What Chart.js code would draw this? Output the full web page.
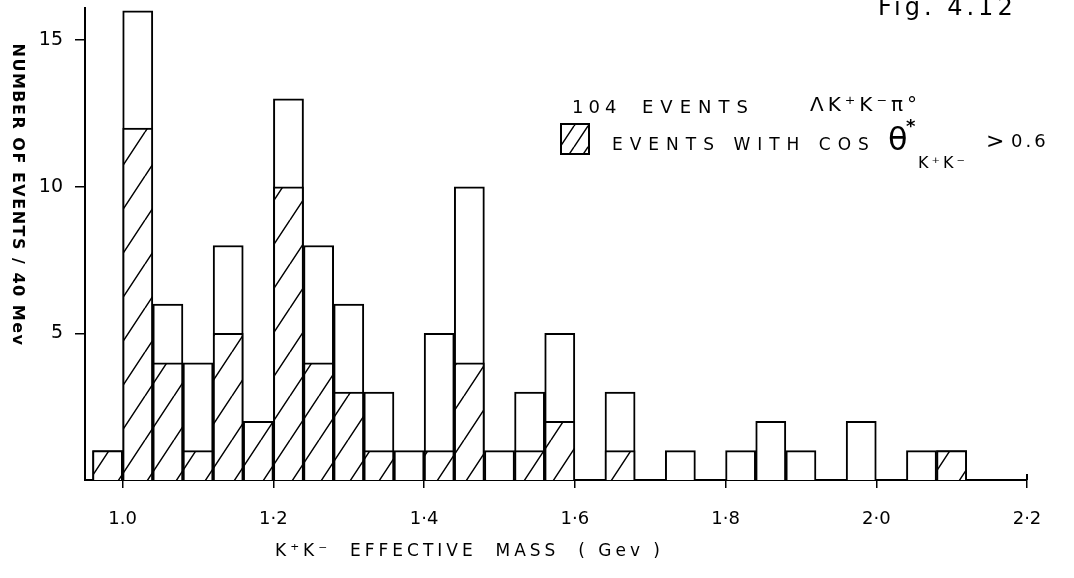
<!DOCTYPE html>
<html>
<head>
<meta charset="utf-8">
<script src="https://cdn.jsdelivr.net/npm/chart.js@4.4.0/dist/chart.umd.min.js"></script>
<style>
  html, body { margin: 0; padding: 0; background: #fff; }
</style>
</head>
<body>
<canvas id="myChart" width="1074" height="578"></canvas>
<script>
// K+K- effective mass, 40 MeV bins (lower edge of each bin, GeV)
const binStarts = [0.96, 1.00, 1.04, 1.08, 1.12, 1.16, 1.20, 1.24, 1.28, 1.32,
                   1.36, 1.40, 1.44, 1.48, 1.52, 1.56, 1.60, 1.64, 1.68, 1.72,
                   1.76, 1.80, 1.84, 1.88, 1.92, 1.96, 2.00, 2.04, 2.08];
// all 104 events
const allEvents = [1, 16, 6, 4, 8, 2, 13, 8, 6, 3,
                   1, 5, 10, 1, 3, 5, 0, 3, 0, 1,
                   0, 1, 2, 1, 0, 2, 0, 1, 1];
// events with cos theta* > 0.6 (hatched)
const cosCutEvents = [1, 12, 4, 1, 5, 2, 10, 4, 3, 1,
                      0, 1, 4, 0, 1, 2, 0, 1, 0, 0,
                      0, 0, 0, 0, 0, 0, 0, 0, 1];
const binWidth = 0.04;

const xTickValues = [1.0, 1.2, 1.4, 1.6, 1.8, 2.0, 2.2];
const xTickLabels = ["1.0", "1·2", "1·4", "1·6", "1·8", "2·0", "2·2"];
const yTickValues = [5, 10, 15];

function hatch(w, h, lw) {
  const c = document.createElement("canvas");
  c.width = w;
  c.height = h;
  const g = c.getContext("2d");
  g.fillStyle = "#fff";
  g.fillRect(0, 0, w, h);
  g.strokeStyle = "#000";
  g.lineWidth = lw;
  g.beginPath();
  for (let k = -1; k <= 1; k++) {
    g.moveTo(k * w, h);
    g.lineTo(k * w + w, 0);
  }
  g.stroke();
  return g.createPattern(c, "repeat");
}

function points(values) {
  return binStarts.map((b, i) => ({ x: b + binWidth / 2, y: values[i] || null }));
}

const canvas = document.getElementById("myChart");
const ctx = canvas.getContext("2d");
const hatchFill = hatch(29, 44, 1.5);
const keyFill = hatch(14, 21, 1.5);

const barStyle = {
  borderColor: "#000",
  borderWidth: 2,
  barPercentage: 1,
  categoryPercentage: 1,
  grouped: false,
};

const notes = {
  id: "notes",
  afterDraw(chart) {
    const c = chart.ctx;
    c.save();
    c.fillStyle = "#000";
    c.strokeStyle = "#000";
    c.textBaseline = "middle";
    c.textAlign = "left";

    // figure number (cut at top edge)
    c.font = "24px 'DejaVu Sans'";
    c.letterSpacing = "4px";
    c.fillText("Fig. 4.12", 878, 9);

    // y axis title, reading downward
    c.save();
    c.translate(17, 195);
    c.rotate(Math.PI / 2);
    c.font = "bold 16px 'DejaVu Sans'";
    c.letterSpacing = "1.5px";
    c.textAlign = "center";
    c.fillText("NUMBER OF EVENTS / 40 Mev", 0, 0);
    c.restore();

    // little end mark at 2.2
    const xs = chart.scales.x;
    const base = chart.scales.y.getPixelForValue(0);
    c.lineWidth = 2;
    c.beginPath();
    c.moveTo(xs.getPixelForValue(2.2), base);
    c.lineTo(xs.getPixelForValue(2.2), base - 6);
    c.stroke();

    // x axis title
    c.font = "17px 'DejaVu Sans'";
    c.letterSpacing = "4px";
    c.fillText("K⁺K⁻  EFFECTIVE  MASS  ( Gev )", 275, 552);

    // legend
    c.font = "18px 'DejaVu Sans'";
    c.letterSpacing = "5px";
    c.fillText("104", 572, 108);
    c.letterSpacing = "7px";
    c.fillText("EVENTS", 642, 108);
    c.letterSpacing = "4px";
    c.font = "20px 'DejaVu Sans'";
    c.fillText("ΛK⁺K⁻π°", 810, 106);

    c.fillStyle = keyFill;
    c.fillRect(561, 124, 28, 30);
    c.lineWidth = 2;
    c.strokeRect(561, 124, 28, 30);
    c.fillStyle = "#000";

    c.font = "17px 'DejaVu Sans'";
    c.letterSpacing = "7px";
    c.fillText("EVENTS WITH COS", 612, 146);
    c.letterSpacing = "0px";
    c.font = "32px 'DejaVu Sans'";
    c.fillText("θ", 888, 142);
    c.font = "bold 18px 'DejaVu Sans'";
    c.fillText("*", 906, 127);
    c.font = "16px 'DejaVu Sans'";
    c.letterSpacing = "3px";
    c.fillText("K⁺K⁻", 918, 164);
    c.font = "22px 'DejaVu Sans'";
    c.letterSpacing = "0px";
    c.fillText(">", 986, 142);
    c.font = "18px 'DejaVu Sans'";
    c.letterSpacing = "3px";
    c.fillText("0.6", 1011, 142);
    c.restore();
  },
};

new Chart(ctx, {
  type: "bar",
  data: {
    datasets: [
      Object.assign({ label: "cos θ* > 0.6", data: points(cosCutEvents), backgroundColor: hatchFill }, barStyle),
      Object.assign({ label: "104 events", data: points(allEvents), backgroundColor: "#fff" }, barStyle),
    ],
  },
  options: {
    responsive: false,
    animation: false,
    devicePixelRatio: 1,
    layout: { padding: { top: 8, right: 47, left: 0, bottom: 0 } },
    plugins: {
      legend: { display: false },
      tooltip: { enabled: false },
    },
    scales: {
      x: {
        type: "linear",
        min: 0.95,
        max: 2.2,
        offset: false,
        afterBuildTicks: (s) => { s.ticks = xTickValues.map((v) => ({ value: v })); },
        afterFit: (s) => { s.height = 98; },
        ticks: {
          callback: (v, i) => xTickLabels[i],
          color: "#000",
          font: { family: "DejaVu Sans", size: 18 },
          padding: 21,
          maxRotation: 0,
          autoSkip: false,
        },
        grid: { drawOnChartArea: false, offset: false, tickLength: 8, color: "#000", lineWidth: 1.5 },
        border: { color: "#000", width: 2 },
      },
      y: {
        min: 0,
        max: 16.1,
        afterBuildTicks: (s) => { s.ticks = yTickValues.map((v) => ({ value: v })); },
        afterFit: (s) => {
          s.width = 85;
          s.paddingTop = 0;
          s.paddingBottom = 0;
        },
        ticks: {
          color: "#000",
          font: { family: "DejaVu Sans", size: 19 },
          padding: 12,
        },
        grid: { drawOnChartArea: false, tickLength: 10, color: "#000", lineWidth: 1.5 },
        border: { color: "#000", width: 2 },
      },
    },
  },
  plugins: [notes],
});
</script>
</body>
</html>
